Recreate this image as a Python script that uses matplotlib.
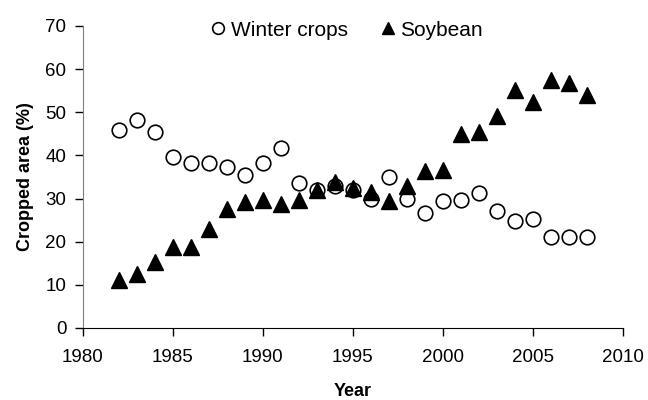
import matplotlib
matplotlib.use("Agg")
import matplotlib.pyplot as plt

# --- DATA ---
years = list(range(1982, 2009))
winter_crops = [46.0, 48.3, 45.5, 39.7, 38.2, 38.2, 37.4, 35.5, 38.2, 41.7,
                33.6, 32.0, 32.8, 32.0, 29.9, 35.1, 29.9, 26.6, 29.5, 29.7,
                31.2, 27.1, 24.8, 25.2, 21.0, 21.0, 21.0]
soybean = [11.1, 12.5, 15.2, 18.7, 18.7, 22.9, 27.5, 29.1, 29.7, 28.8,
           29.7, 31.9, 33.9, 32.4, 31.6, 29.5, 32.9, 36.5, 36.7, 45.0,
           45.5, 49.2, 55.2, 52.5, 57.5, 56.8, 54.1]

plt.rcParams['font.family'] = ['Liberation Sans', 'DejaVu Sans']

fig = plt.figure(figsize=(6.48, 4.0), dpi=100)
ax = fig.add_axes([0.128, 0.18, 0.833, 0.755])

ax.plot(years, winter_crops, linestyle='none', marker='o', markersize=10.5,
        markerfacecolor='white', markeredgecolor='black', markeredgewidth=1.2,
        label='Winter crops')
ax.plot(years, soybean, linestyle='none', marker='^', markersize=11,
        markerfacecolor='black', markeredgecolor='black',
        label='Soybean')

ax.set_xlim(1980, 2010)
ax.set_ylim(0, 70)
ax.set_xticks(range(1980, 2011, 5))
ax.set_yticks(range(0, 71, 10))
ax.tick_params(labelsize=13.5, direction='out', length=6, width=1)
ax.tick_params(axis='x', pad=9)
ax.tick_params(axis='y', pad=6)

ax.spines['top'].set_visible(False)
ax.spines['right'].set_visible(False)
ax.spines['left'].set_color('#808080')

ax.set_xlabel('Year', fontsize=13, fontweight='bold', labelpad=12)
ax.set_ylabel('Cropped area (%)', fontsize=13, fontweight='bold', labelpad=8)

ax.legend(loc='upper center', bbox_to_anchor=(0.49, 1.08), ncol=2, frameon=False,
          fontsize=15, markerscale=0.8, handlelength=0.6, handletextpad=0.3,
          columnspacing=1.6)

fig.savefig('out.png', dpi=100)
